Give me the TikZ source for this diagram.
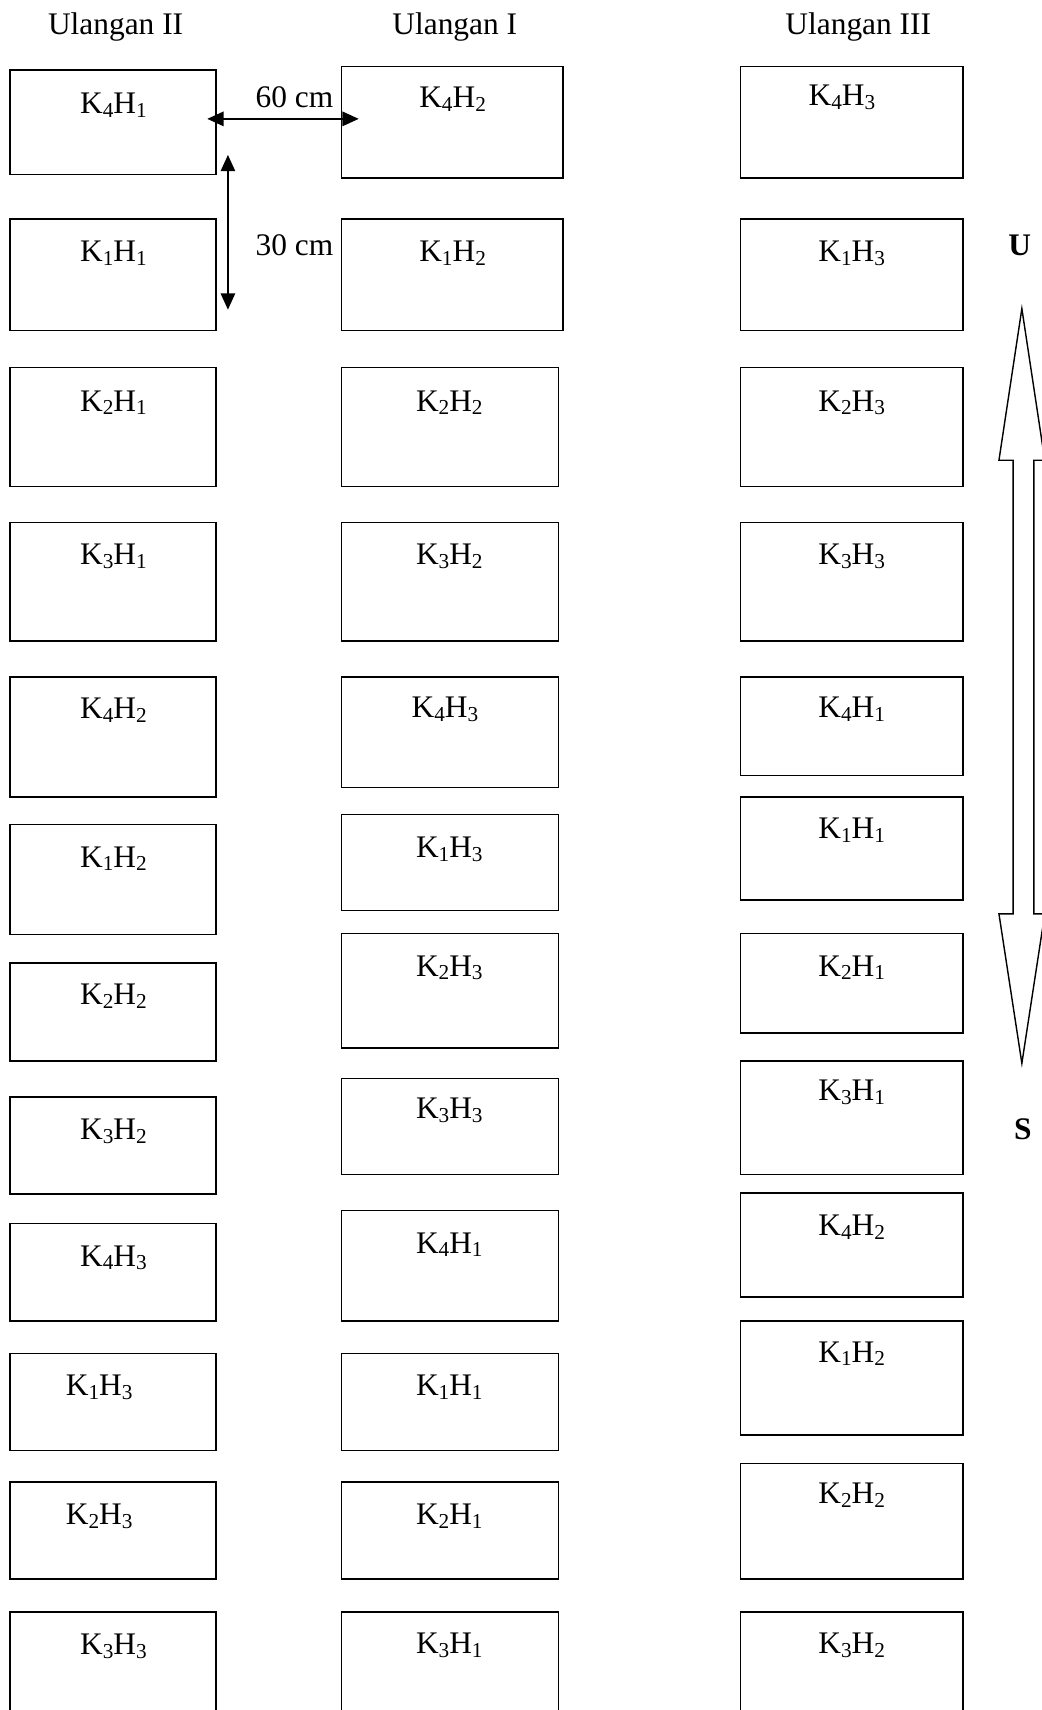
\documentclass[tikz,border=0pt]{standalone}
\usepackage{fontspec}
\setmainfont{Liberation Serif}
\usetikzlibrary{arrows.meta}
\newcommand\sbs[1]{\raisebox{-3.5pt}{\fontsize{19.5}{20}\selectfont #1}}
\newcommand\KH[2]{K\sbs{#1}H\sbs{#2}}
\newcommand\plotcell[8]{%
  \node[plotbox, minimum width={(#4-#2)*1pt}, minimum height={(#5-#3)*1pt}] (#1) at ({(#2+#4)/2},{(#3+#5)/2}) {};
  \node[lbl] (#1l) at (#6,{#7+8}) {#8};}
\begin{document}
\begin{tikzpicture}[x=1pt,y=-1pt,
  font=\fontsize{28.8}{34}\selectfont,
  plotbox/.style={draw, line width=1.5pt, inner sep=0pt},
  lbl/.style={inner sep=0pt, anchor=base},
  dim/.style={line width=2.2pt, {Triangle[length=15pt,width=13pt]}-{Triangle[length=15pt,width=13pt]}},
  bigarrow/.style={draw, line width=1.3pt, line join=miter}]
\useasboundingbox (0,0) rectangle (955,1568);
% headers
\node[lbl] (h2) at (106,32) {Ulangan II};
\node[lbl] (h1) at (417,32) {Ulangan I};
\node[lbl] (h3) at (787,32) {Ulangan III};
% column 1 (Ulangan II)
\plotcell{a1}{9}{64}{198}{160}{104}{96}{\KH41}
\plotcell{a2}{9}{201}{198}{303}{104}{232}{\KH11}
\plotcell{a3}{9}{337}{198}{446}{104}{369}{\KH21}
\plotcell{a4}{9}{479}{198}{588}{104}{510}{\KH31}
\plotcell{a5}{9}{621}{198}{731}{104}{651}{\KH42}
\plotcell{a6}{9}{756}{198}{857}{104}{787}{\KH12}
\plotcell{a7}{9}{883}{198}{973}{104}{913}{\KH22}
\plotcell{a8}{9}{1006}{198}{1095}{104}{1037}{\KH32}
\plotcell{a9}{9}{1122}{198}{1211}{104}{1153}{\KH43}
\plotcell{a10}{9}{1241}{198}{1330}{91}{1272}{\KH13}
\plotcell{a11}{9}{1359}{198}{1448}{91}{1390}{\KH23}
\plotcell{a12}{9}{1478}{198}{1590}{104}{1509}{\KH33}
% column 2 (Ulangan I)
\plotcell{b1}{313}{61}{516}{163}{415}{91}{\KH42}
\plotcell{b2}{313}{201}{516}{303}{415}{232}{\KH12}
\plotcell{b3}{313}{337}{512}{446}{412}{369}{\KH22}
\plotcell{b4}{313}{479}{512}{588}{412}{510}{\KH32}
\plotcell{b5}{313}{621}{512}{722}{408}{650}{\KH43}
\plotcell{b6}{313}{747}{512}{835}{412}{778}{\KH13}
\plotcell{b7}{313}{856}{512}{961}{412}{887}{\KH23}
\plotcell{b8}{313}{989}{512}{1077}{412}{1018}{\KH33}
\plotcell{b9}{313}{1110}{512}{1211}{412}{1141}{\KH41}
\plotcell{b10}{313}{1241}{512}{1330}{412}{1272}{\KH11}
\plotcell{b11}{313}{1359}{512}{1448}{412}{1390}{\KH21}
\plotcell{b12}{313}{1478}{512}{1590}{412}{1508}{\KH31}
% column 3 (Ulangan III)
\plotcell{c1}{679}{61}{883}{163}{772}{89}{\KH43}
\plotcell{c2}{679}{201}{883}{303}{781}{232}{\KH13}
\plotcell{c3}{679}{337}{883}{446}{781}{369}{\KH23}
\plotcell{c4}{679}{479}{883}{588}{781}{510}{\KH33}
\plotcell{c5}{679}{621}{883}{711}{781}{650}{\KH41}
\plotcell{c6}{679}{731}{883}{825}{781}{761}{\KH11}
\plotcell{c7}{679}{856}{883}{947}{781}{887}{\KH21}
\plotcell{c8}{679}{973}{883}{1077}{781}{1001}{\KH31}
\plotcell{c9}{679}{1094}{883}{1189}{781}{1125}{\KH42}
\plotcell{c10}{679}{1211}{883}{1316}{781}{1241}{\KH12}
\plotcell{c11}{679}{1342}{883}{1448}{781}{1371}{\KH22}
\plotcell{c12}{679}{1478}{883}{1590}{781}{1508}{\KH32}
% spacing dimensions
\coordinate (hl) at (190,109);
\coordinate (hr) at (329,109);
\draw[dim] (hl) -- (hr);
\node[lbl] (d60) at (270,98.5) {60 cm};
\coordinate (vt) at (209,142);
\coordinate (vb) at (209,284);
\draw[dim] (vt) -- (vb);
\node[lbl] (d30) at (270,234.5) {30 cm};
% north-south arrow
\node[lbl, font=\fontsize{28.8}{34}\selectfont\bfseries] (north) at (935,234) {U};
\node[lbl, font=\fontsize{28.8}{34}\selectfont\bfseries] (south) at (938,1045) {S};
\draw[bigarrow] (937,283) -- (958,422) -- (948,422) -- (948,838) -- (958,838) -- (937,975)
  -- (916,838) -- (929,838) -- (929,422) -- (916,422) -- cycle;
\end{tikzpicture}
\end{document}
